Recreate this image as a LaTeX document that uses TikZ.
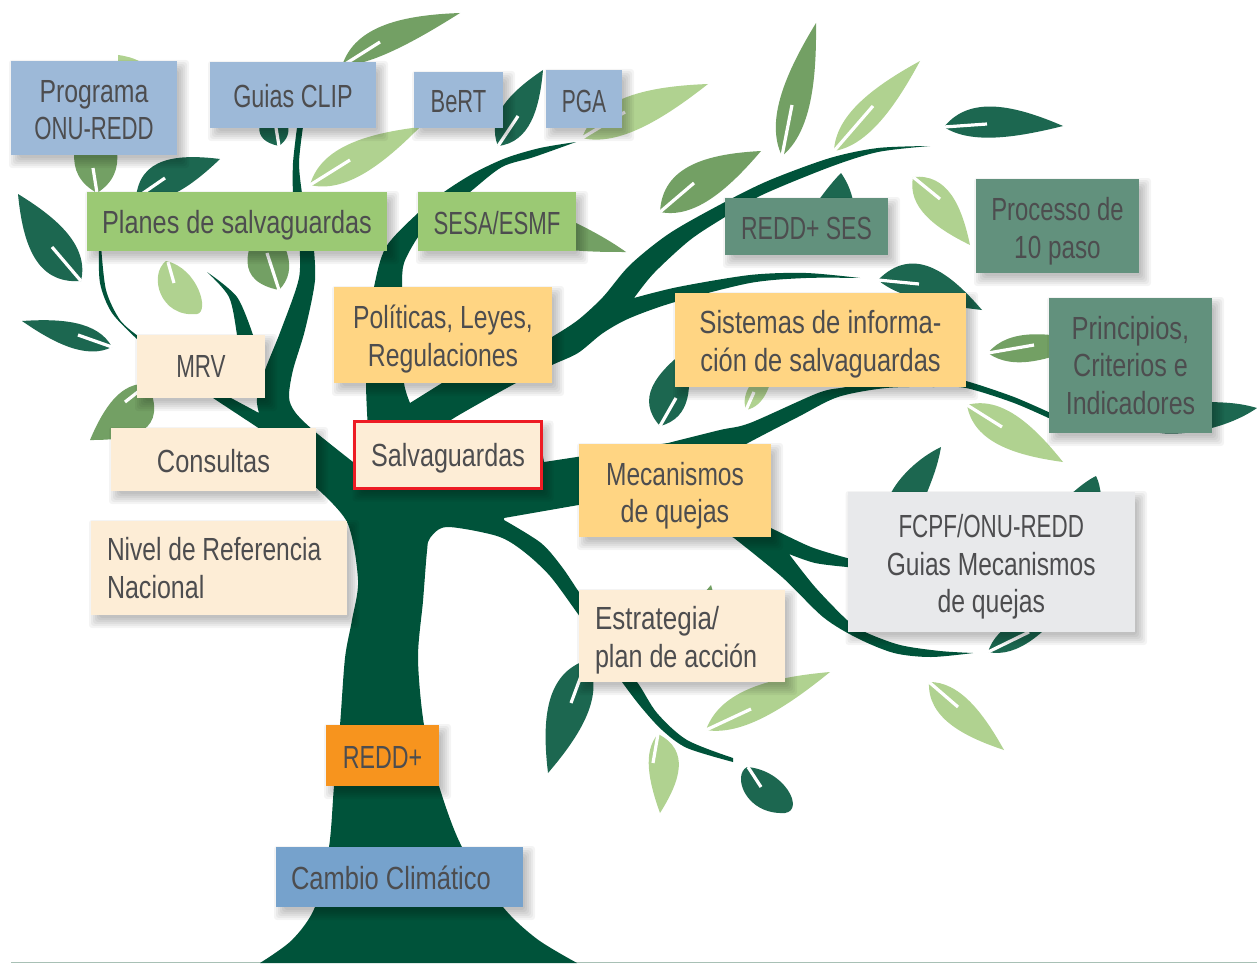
\documentclass[tikz,border=0pt]{standalone}
\usepackage{graphicx}
\usepackage{fontspec}
\setmainfont[FakeStretch=0.745]{Liberation Sans}
\usetikzlibrary{calc}
\definecolor{bark}{HTML}{00533A}
\definecolor{lfdark}{HTML}{1C6750}
\definecolor{lfmid}{HTML}{73A064}
\definecolor{lflight}{HTML}{B0D290}
\definecolor{cblue}{HTML}{9DB9D8}
\definecolor{cblue2}{HTML}{76A2CC}
\definecolor{cgreen}{HTML}{9BC974}
\definecolor{cpeach}{HTML}{FDEDD6}
\definecolor{cyellow}{HTML}{FFD583}
\definecolor{cteal}{HTML}{62917D}
\definecolor{corange}{HTML}{F7941E}
\definecolor{cgrey}{HTML}{E8E9EB}
\definecolor{cred}{HTML}{ED1C24}
\definecolor{ctext}{HTML}{4D4D4F}
\definecolor{cline}{HTML}{A8C0B5}
\tikzset{
  barkfill/.style={fill=bark},
  dk/.style={fill=lfdark},
  md/.style={fill=lfmid},
  lt/.style={fill=lflight},
  rib/.style={draw=white,line width=3.2pt},
  tagbox/.style={inner sep=0pt},
  tagtext/.style={inner sep=0pt,align=center,text=ctext,font=\fontsize{32}{37.5}\selectfont},
  lefttext/.style={anchor=west,align=flush left},
}
\newcommand\hs[2]{\scalebox{#1}[1]{#2}}
\newcommand\leaf[6]{%
  \fill[#1] (#2) .. controls ($(#2)!.22!(#3)!#4*1.6pt!90:(#3)$) and ($(#2)!.6!(#3)!#4*1.05pt!90:(#3)$) .. (#3)
    .. controls ($(#2)!.6!(#3)!#5*1.05pt!-90:(#3)$) and ($(#2)!.22!(#3)!#5*1.6pt!-90:(#3)$) .. (#2) -- cycle;
  \draw[rib] (#2) -- (#6);
}
\newcommand\tagnode[6][]{%
  \foreach \k in {-3,-1,1,3,5,7}{
    \fill[black,opacity=.045,rounded corners=3pt] (#3+5-\k,#4+6-\k) rectangle (#5+5+\k,#6+6+\k);
  }
  \pgfmathsetlengthmacro\bw{(#5-#3)*1pt}
  \pgfmathsetlengthmacro\bh{(#6-#4)*1pt}
  \node[tagbox,minimum width=\bw,minimum height=\bh,#1] (#2) at ({(#3+#5)/2},{(#4+#6)/2}) {};
}
\newcommand\tagtext[4][]{\node[tagtext,#1] (#2-t) at (#2.#3) {#4};}
\begin{document}
\begin{tikzpicture}[x=1pt,y=-1pt]
\useasboundingbox (0,0) rectangle (1257,963);
\fill[white] (0,0) rectangle (1257,963);
\draw[draw=cline,line width=1pt] (11,962.5) -- (1257,962.5);

% ---------- leaves ----------
\fill[lt] (118,55) .. controls (126,56) and (133,58) .. (139,61) -- (118,61) -- cycle;
\leaf{md}{342,66}{460,13}{20}{7}{380,42}
\leaf{dk}{279,146}{272,100}{17}{12}{276,128}
\leaf{lt}{310,185}{420,127}{18}{15}{350,160}
\leaf{dk}{498,146}{543,70}{16}{16}{518,116}
\leaf{lt}{582,138}{708,84}{20}{14}{625,112}
\leaf{md}{97,193}{95,100}{22}{21}{93,168}
\leaf{dk}{136,198}{220,159}{22}{12}{165,178}
\leaf{dk}{81,281}{18,194}{24}{17}{52,247}
\leaf{md}{279,290}{265,215}{26}{15}{267,253}
\fill[lt] (166,261) .. controls (148,275) and (160,318) .. (197,314) .. controls (210,312) and (198,268) .. (166,261) -- cycle;
\draw[rib] (168,262) -- (174,283);
\leaf{dk}{112,347}{22,321}{12}{13}{78,335}
\leaf{md}{148,384}{90,440}{30}{13}{125,402}
\leaf{md}{782,156}{816,23}{16}{14}{792,105}
\leaf{lt}{834,151}{920,61}{15}{13}{873,106}
\leaf{dk}{944,127}{1063,126}{20}{11}{987,124}
\leaf{md}{660,212}{761,151}{24}{15}{694,183}
\fill[dk] (818,201) .. controls (826,190) and (834,180) .. (841,173) .. controls (846,180) and (851,190) .. (853,201) -- cycle;
\leaf{lt}{913,177}{970,245}{18}{15}{940,199}
\leaf{dk}{878,280}{982,310}{27}{7}{919,284}
\leaf{md}{988,353}{1090,342}{14}{13}{1034,345}
\fill[dk] (1160,433) .. controls (1180,436) and (1225,430) .. (1257,408) .. controls (1240,403) and (1225,402) .. (1200,402) -- cycle;
\leaf{lt}{967,405}{1063,462}{16}{18}{1002,427}
\leaf{dk}{660,426}{686,350}{20}{17}{676,398}
\leaf{lt}{746,410}{775,360}{9}{9}{754,392}
\fill[dk] (890,495) .. controls (898,478) and (918,458) .. (941,447) .. controls (938,465) and (932,480) .. (926,495) -- cycle;
\fill[dk] (1070,495) .. controls (1080,486) and (1088,480) .. (1096,476) .. controls (1099,482) and (1100,488) .. (1101,495) -- cycle;
\leaf{dk}{988,652}{1072,600}{12}{13}{1029,632}
\leaf{lt}{929,682}{1004,750}{13}{17}{958,707}
\leaf{lt}{706,730}{830,672}{19}{13}{751,709}
\leaf{dk}{587,660}{548,773}{18}{22}{571,703}
\leaf{lt}{658,734}{660,813}{20}{10}{653,763}
\fill[dk] (747,767) .. controls (732,775) and (745,815) .. (785,813) .. controls (805,810) and (785,770) .. (747,767) -- cycle;
\draw[rib] (748,767) -- (761,787);
\fill[md] (705,592) -- (711,585) -- (713,592) -- cycle;
\fill[md] (570,220) .. controls (595,232) and (612,242) .. (626,252) .. controls (610,252) and (592,252) .. (570,250) -- cycle;

% ---------- tree ----------
\fill[barkfill] plot[smooth] coordinates {(260,963) (292,940) (315,907) (329,847) (334,786) (340,725) (345,658) (352,620) (358,580) (347,522) (312,484)}
  -- (305,470) -- (353,470) -- (360,440) -- (540,440) -- (544,462) -- (590,455) -- (590,503) -- (504,518)
  -- plot[smooth] coordinates {(504,520) (541,543) (562,567) (579,592) (590,605)}
  -- plot[smooth] coordinates {(590,630) (578,614) (550,576) (523,551) (497,536) (447,527) (430,538) (427,551) (423,601) (418,658) (424,725) (439,786) (462,847) (503,907) (537,939) (577,963)}
  -- cycle;
% left limb
\fill[barkfill] plot[smooth] coordinates {(353,462) (313,430) (295,412) (289,397) (293,370) (305,330) (315,280) (313,240)}
  -- plot[smooth] coordinates {(299,240) (299,278) (281,330) (265,370) (257,398) (259,413)}
  -- (231,398) -- (200,378) -- (213,398) -- (257,427) -- (290,450) -- (300,485) -- (353,490) -- cycle;
% twig over MRV
\fill[barkfill] plot[smooth] coordinates {(207,272) (229,297) (237,335) (240,365)} -- (256,365)
  -- plot[smooth] coordinates {(253,335) (237,297) (207,272)} -- cycle;
% thin twig left of MRV
\fill[barkfill] plot[smooth] coordinates {(99,245) (100,283) (112,313) (138,340)} -- plot[smooth] coordinates {(138,336) (120,320) (106,290) (101,245)} -- cycle;
% twig Guias to Planes
\fill[barkfill] plot[smooth] coordinates {(298,120) (293,163) (293,200)} -- plot[smooth] coordinates {(303,200) (299,163) (304,120)} -- cycle;
% central and right limbs
\fill[barkfill] plot[smooth] coordinates {(368,430) (366,383) (368,330) (374,287) (386,247) (418,213) (444,192) (474,173) (506,158) (540,148) (576,142)}
  -- plot[smooth] coordinates {(576,142) (534,157) (502,167) (470,192) (430,225) (418,237) (404,263) (402,287) (402,340) (404,383) (410,403)}
  -- (442,383)
  -- plot[smooth] coordinates {(530,350) (552,337) (578,320) (603,297) (630,265) (670,233) (725,202) (770,180) (830,158) (878,148) (930,146)}
  -- plot[smooth] coordinates {(930,146) (878,152) (830,167) (762,195) (725,217) (690,240) (654,273) (634,298)}
  -- plot[smooth] coordinates {(634,298) (678,287) (750,275) (806,273) (860,278)}
  -- plot[smooth] coordinates {(860,278) (806,278) (750,283) (675,302) (630,318) (603,333) (578,353) (552,365) (516,383) (454,418) (440,430)}
  -- cycle;
% Mecanismos to Principios
\fill[barkfill] (579,457)
  -- plot[smooth] coordinates {(668,443) (720,430) (750,423) (818,393) (846,387) (890,378) (940,377) (966,381) (1014,397) (1055,415)}
  -- plot[smooth] coordinates {(1055,421) (1014,403) (966,388) (934,387) (886,388) (838,397) (798,417) (748,443) (700,470)}
  -- (590,495) -- cycle;
% lower right
\fill[barkfill] (720,500)
  -- plot[smooth] coordinates {(771,528) (811,547) (847,558) (860,561)} -- (860,568)
  -- plot[smooth] coordinates {(847,567) (815,563) (789,554)}
  -- plot[smooth] coordinates {(789,554) (815,587) (847,620) (865,632) (900,645) (940,651) (973,653)}
  -- plot[smooth] coordinates {(973,653) (931,657) (894,653) (857,638) (823,617) (782,577) (734,538)}
  -- (700,520) -- cycle;
% Estrategia twig
\fill[barkfill] plot[smooth] coordinates {(615,660) (637,682) (657,713) (687,740) (733,758)} -- (733,762)
  -- plot[smooth] coordinates {(733,762) (687,748) (662,730) (641,707) (622,682) (600,650)} -- cycle;

% ---------- tags ----------
\tagnode[fill=cblue]{prog}{11}{61}{177}{155}
\tagtext[yshift=-2pt]{prog}{center}{\hs{1.04}{Programa}\\\hs{.93}{ONU-REDD}}
\tagnode[fill=cblue]{clip}{210}{62}{376}{128}
\tagtext[yshift=-1pt]{clip}{center}{\hs{.98}{Guias CLIP}}
\tagnode[fill=cblue]{bert}{414}{72}{503}{128}
\tagtext[yshift=-2pt]{bert}{center}{\hs{.92}{BeRT}}
\tagnode[fill=cblue]{pga}{546}{70}{622}{128}
\tagtext[yshift=-2pt]{pga}{center}{\hs{.88}{PGA}}
\tagnode[fill=cgreen]{planes}{87}{192}{387}{251}
\tagtext[yshift=-4pt]{planes}{center}{\hs{1.06}{Planes de salvaguardas}}
\tagnode[fill=cgreen]{sesa}{418}{192}{576}{251}
\tagtext[yshift=-1.5pt]{sesa}{center}{\hs{.93}{SESA/ESMF}}
\tagnode[fill=cyellow]{pol}{334}{287}{552}{383}
\tagtext[yshift=-4pt]{pol}{center}{\hs{1.035}{Políticas, Leyes,}\\\hs{1.04}{Regulaciones}}
\tagnode[fill=cpeach]{mrv}{137}{335}{265}{398}
\tagtext{mrv}{center}{\hs{.94}{MRV}}
\tagnode[fill=cpeach]{cons}{111}{428}{316}{491}
\tagtext[yshift=-2pt]{cons}{center}{\hs{1.066}{Consultas}}
\tagnode[fill=cpeach,draw=cred,line width=3pt]{salv}{354.5}{421.5}{541.5}{488.5}
\tagtext[yshift=-3pt]{salv}{center}{\hs{1.055}{Salvaguardas}}
\tagnode[fill=cyellow]{mec}{579}{444}{771}{537}
\tagtext[yshift=-5pt]{mec}{center}{\hs{1.03}{Mecanismos}\\\hs{1.05}{de quejas}}
\tagnode[fill=cpeach]{estr}{579}{590}{785}{682}
\tagtext[lefttext,xshift=16pt,yshift=-4pt]{estr}{west}{\hs{1.09}{Estrategia/}\\\hs{1.055}{plan de acción}}
\tagnode[fill=cpeach]{nivel}{91}{521}{347}{615}
\tagtext[lefttext,xshift=16pt]{nivel}{west}{\hs{1.03}{Nivel de Referencia}\\\hs{1.05}{Nacional}}
\tagnode[fill=corange]{redd}{326}{725}{439}{786}
\tagtext[yshift=-2pt]{redd}{center}{\hs{.975}{REDD+}}
\tagnode[fill=cblue2]{cambio}{276}{847}{523}{907}
\tagtext[lefttext,xshift=15pt,yshift=-1pt]{cambio}{west}{\hs{1.07}{Cambio Climático}}
\tagnode[fill=cteal]{ses}{725}{198}{888}{255}
\tagtext[yshift=-2pt]{ses}{center}{\hs{.963}{REDD+ SES}}
\tagnode[fill=cteal]{proc}{976}{179}{1139}{273}
\tagtext[yshift=-5pt]{proc}{center}{Processo de\\\hs{1.02}{10 paso}}
\tagnode[fill=cyellow]{sis}{675}{293}{966}{387}
\tagtext[yshift=-4pt]{sis}{center}{\hs{1.075}{Sistemas de informa-}\\\hs{1.067}{ción de salvaguardas}}
\tagnode[fill=cteal]{prin}{1049}{298}{1212}{433}
\tagtext{prin}{center}{\hs{1.07}{Principios,}\\\hs{1.055}{Criterios e}\\\hs{1.05}{Indicadores}}
\tagnode[fill=cgrey]{fcpf}{847.5}{492}{1135}{632}
\tagtext[yshift=-5pt]{fcpf}{center}{\hs{.94}{FCPF/ONU-REDD}\\\hs{1.03}{Guias Mecanismos}\\\hs{1.04}{de quejas}}
\end{tikzpicture}
\end{document}
